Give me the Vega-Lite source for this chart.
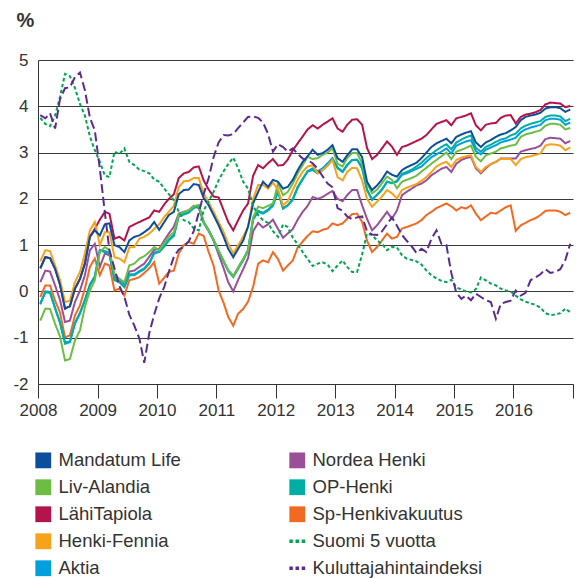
{
  "$schema": "https://vega.github.io/schema/vega-lite/v6.json",
  "width": 535,
  "height": 324,
  "autosize": "none",
  "padding": {"left": 38, "top": 60, "right": 6, "bottom": 194},
  "background": "white",
  "config": {
    "view": {"stroke": null},
    "axis": {"labelFont": "Liberation Sans", "labelColor": "#333", "domainColor": "#333", "tickColor": "#333", "titleFont": "Liberation Sans", "titleColor": "#333"},
    "legend": {
      "orient": "none", "legendX": -4, "legendY": 391, "columns": 2,
      "columnPadding": 107, "rowPadding": 8, "symbolSize": 250, "symbolStrokeWidth": 0, "symbolOpacity": 1,
      "labelFont": "Liberation Sans", "labelFontSize": 18.5, "labelColor": "#333", "labelOffset": 6, "labelLimit": 400, "padding": 0
    }
  },
  "data": {"values": [
    {"d":"2008-01-15","ML":0.5,"LA":-0.63,"LT":0.5,"HF":0.65,"AK":-0.26,"NH":0.2,"OP":-0.28,"SP":-0.12,"S5":3.75,"KH":3.81},
    {"d":"2008-02-15","ML":0.74,"LA":-0.37,"LT":0.74,"HF":0.89,"AK":0.0,"NH":0.45,"OP":-0.02,"SP":0.13,"S5":3.62,"KH":3.74},
    {"d":"2008-03-15","ML":0.72,"LA":-0.38,"LT":0.72,"HF":0.87,"AK":-0.01,"NH":0.43,"OP":-0.03,"SP":0.13,"S5":3.57,"KH":3.85},
    {"d":"2008-04-15","ML":0.49,"LA":-0.7,"LT":0.49,"HF":0.56,"AK":-0.35,"NH":0.13,"OP":-0.37,"SP":-0.2,"S5":3.8,"KH":3.52},
    {"d":"2008-05-15","ML":0.15,"LA":-0.97,"LT":0.15,"HF":0.25,"AK":-0.66,"NH":-0.18,"OP":-0.68,"SP":-0.45,"S5":4.2,"KH":4.15},
    {"d":"2008-06-15","ML":-0.37,"LA":-1.49,"LT":-0.37,"HF":-0.23,"AK":-1.1,"NH":-0.66,"OP":-1.13,"SP":-0.99,"S5":4.7,"KH":4.39},
    {"d":"2008-07-15","ML":-0.32,"LA":-1.46,"LT":-0.32,"HF":-0.2,"AK":-1.08,"NH":-0.63,"OP":-1.1,"SP":-0.95,"S5":4.65,"KH":4.41},
    {"d":"2008-08-15","ML":0.06,"LA":-1.06,"LT":0.06,"HF":0.2,"AK":-0.68,"NH":-0.23,"OP":-0.7,"SP":-0.52,"S5":4.4,"KH":4.63},
    {"d":"2008-09-15","ML":0.27,"LA":-0.84,"LT":0.27,"HF":0.42,"AK":-0.46,"NH":0.02,"OP":-0.48,"SP":-0.3,"S5":4.05,"KH":4.73},
    {"d":"2008-10-15","ML":0.6,"LA":-0.34,"LT":0.6,"HF":0.82,"AK":-0.18,"NH":0.35,"OP":-0.2,"SP":0.06,"S5":3.8,"KH":4.35},
    {"d":"2008-11-15","ML":1.18,"LA":0.02,"LT":1.18,"HF":1.32,"AK":0.15,"NH":0.89,"OP":0.13,"SP":0.53,"S5":3.35,"KH":3.75},
    {"d":"2008-12-15","ML":1.32,"LA":0.24,"LT":1.35,"HF":1.5,"AK":0.33,"NH":1.03,"OP":0.31,"SP":0.71,"S5":3.05,"KH":3.48},
    {"d":"2009-01-15","ML":1.21,"LA":0.85,"LT":1.55,"HF":1.0,"AK":0.9,"NH":0.53,"OP":0.89,"SP":0.35,"S5":2.8,"KH":2.65},
    {"d":"2009-02-15","ML":1.45,"LA":0.96,"LT":1.72,"HF":1.28,"AK":0.87,"NH":0.82,"OP":0.85,"SP":0.6,"S5":2.5,"KH":1.7},
    {"d":"2009-03-15","ML":1.47,"LA":0.89,"LT":1.68,"HF":1.28,"AK":0.84,"NH":0.78,"OP":0.82,"SP":0.56,"S5":2.47,"KH":0.89},
    {"d":"2009-04-15","ML":1.0,"LA":0.38,"LT":1.14,"HF":0.74,"AK":0.26,"NH":0.31,"OP":0.24,"SP":0.02,"S5":3.02,"KH":0.5},
    {"d":"2009-05-15","ML":0.96,"LA":0.27,"LT":1.18,"HF":0.71,"AK":0.22,"NH":0.27,"OP":0.2,"SP":0.06,"S5":2.97,"KH":0.12},
    {"d":"2009-06-15","ML":0.85,"LA":0.2,"LT":1.1,"HF":0.63,"AK":0.11,"NH":0.17,"OP":0.09,"SP":-0.09,"S5":3.09,"KH":-0.12},
    {"d":"2009-07-15","ML":1.1,"LA":0.56,"LT":1.39,"HF":0.95,"AK":0.37,"NH":0.43,"OP":0.35,"SP":0.24,"S5":2.8,"KH":-0.5},
    {"d":"2009-08-15","ML":1.18,"LA":0.6,"LT":1.45,"HF":0.96,"AK":0.37,"NH":0.45,"OP":0.35,"SP":0.27,"S5":2.73,"KH":-0.74},
    {"d":"2009-09-15","ML":1.21,"LA":0.71,"LT":1.5,"HF":1.14,"AK":0.44,"NH":0.53,"OP":0.42,"SP":0.31,"S5":2.63,"KH":-1.02},
    {"d":"2009-10-15","ML":1.28,"LA":0.76,"LT":1.55,"HF":1.18,"AK":0.5,"NH":0.6,"OP":0.48,"SP":0.4,"S5":2.6,"KH":-1.54},
    {"d":"2009-11-15","ML":1.36,"LA":0.85,"LT":1.6,"HF":1.25,"AK":0.62,"NH":0.75,"OP":0.6,"SP":0.5,"S5":2.55,"KH":-0.9},
    {"d":"2009-12-15","ML":1.5,"LA":0.96,"LT":1.75,"HF":1.35,"AK":0.84,"NH":0.9,"OP":0.82,"SP":0.63,"S5":2.42,"KH":-0.5},
    {"d":"2010-01-15","ML":1.33,"LA":0.89,"LT":1.72,"HF":1.45,"AK":0.87,"NH":0.92,"OP":0.85,"SP":0.17,"S5":2.37,"KH":-0.15},
    {"d":"2010-02-15","ML":1.5,"LA":1.05,"LT":1.88,"HF":1.61,"AK":0.99,"NH":1.1,"OP":0.97,"SP":0.3,"S5":2.22,"KH":0.1},
    {"d":"2010-03-15","ML":1.65,"LA":1.18,"LT":2.0,"HF":1.72,"AK":1.12,"NH":1.25,"OP":1.1,"SP":0.42,"S5":2.1,"KH":0.42},
    {"d":"2010-04-15","ML":1.72,"LA":1.28,"LT":2.1,"HF":1.85,"AK":1.22,"NH":1.4,"OP":1.2,"SP":0.45,"S5":1.97,"KH":0.75},
    {"d":"2010-05-15","ML":2.1,"LA":1.65,"LT":2.45,"HF":2.25,"AK":1.64,"NH":1.68,"OP":1.62,"SP":0.82,"S5":1.72,"KH":0.9},
    {"d":"2010-06-15","ML":2.19,"LA":1.72,"LT":2.55,"HF":2.38,"AK":1.68,"NH":1.72,"OP":1.66,"SP":1.0,"S5":1.54,"KH":0.97},
    {"d":"2010-07-15","ML":2.2,"LA":1.75,"LT":2.58,"HF":2.39,"AK":1.72,"NH":1.75,"OP":1.7,"SP":1.07,"S5":1.5,"KH":1.08},
    {"d":"2010-08-15","ML":2.32,"LA":1.84,"LT":2.68,"HF":2.45,"AK":1.82,"NH":1.85,"OP":1.8,"SP":1.03,"S5":1.36,"KH":1.3},
    {"d":"2010-09-15","ML":2.3,"LA":1.87,"LT":2.7,"HF":2.45,"AK":1.86,"NH":1.8,"OP":1.84,"SP":1.25,"S5":1.32,"KH":1.7},
    {"d":"2010-10-15","ML":2.02,"LA":1.5,"LT":2.4,"HF":2.12,"AK":1.5,"NH":1.5,"OP":1.48,"SP":1.2,"S5":1.75,"KH":2.1},
    {"d":"2010-11-15","ML":1.86,"LA":1.32,"LT":2.2,"HF":1.93,"AK":1.32,"NH":1.32,"OP":1.3,"SP":0.85,"S5":1.95,"KH":2.45},
    {"d":"2010-12-15","ML":1.65,"LA":1.12,"LT":2.05,"HF":1.72,"AK":1.12,"NH":1.1,"OP":1.1,"SP":0.56,"S5":2.15,"KH":2.9},
    {"d":"2011-01-15","ML":1.43,"LA":0.88,"LT":2.03,"HF":1.5,"AK":0.88,"NH":0.8,"OP":0.86,"SP":0.02,"S5":2.4,"KH":3.22},
    {"d":"2011-02-15","ML":1.18,"LA":0.66,"LT":1.75,"HF":1.28,"AK":0.66,"NH":0.5,"OP":0.64,"SP":-0.25,"S5":2.6,"KH":3.38},
    {"d":"2011-03-15","ML":0.92,"LA":0.46,"LT":1.5,"HF":1.03,"AK":0.46,"NH":0.2,"OP":0.44,"SP":-0.55,"S5":2.75,"KH":3.37},
    {"d":"2011-04-15","ML":0.74,"LA":0.33,"LT":1.32,"HF":0.82,"AK":0.33,"NH":0.0,"OP":0.31,"SP":-0.74,"S5":2.89,"KH":3.4},
    {"d":"2011-05-15","ML":0.92,"LA":0.52,"LT":1.54,"HF":1.0,"AK":0.51,"NH":0.25,"OP":0.49,"SP":-0.48,"S5":2.66,"KH":3.53},
    {"d":"2011-06-15","ML":1.1,"LA":0.7,"LT":1.75,"HF":1.18,"AK":0.69,"NH":0.48,"OP":0.67,"SP":-0.38,"S5":2.37,"KH":3.65},
    {"d":"2011-07-15","ML":1.4,"LA":0.88,"LT":1.9,"HF":1.4,"AK":0.9,"NH":0.72,"OP":0.88,"SP":-0.22,"S5":2.22,"KH":3.77},
    {"d":"2011-08-15","ML":1.9,"LA":1.6,"LT":2.5,"HF":2.0,"AK":1.57,"NH":1.3,"OP":1.55,"SP":0.1,"S5":1.85,"KH":3.78},
    {"d":"2011-09-15","ML":2.15,"LA":1.83,"LT":2.73,"HF":2.3,"AK":1.74,"NH":1.48,"OP":1.72,"SP":0.6,"S5":1.65,"KH":3.75},
    {"d":"2011-10-15","ML":2.37,"LA":1.8,"LT":2.66,"HF":2.3,"AK":1.7,"NH":1.38,"OP":1.68,"SP":0.67,"S5":1.54,"KH":3.65},
    {"d":"2011-11-15","ML":2.26,"LA":1.85,"LT":2.77,"HF":2.22,"AK":1.77,"NH":1.45,"OP":1.75,"SP":0.63,"S5":1.48,"KH":3.4},
    {"d":"2011-12-15","ML":2.41,"LA":1.9,"LT":2.86,"HF":2.35,"AK":1.87,"NH":1.55,"OP":1.85,"SP":0.85,"S5":1.3,"KH":3.02},
    {"d":"2012-01-15","ML":2.37,"LA":2.33,"LT":2.72,"HF":2.2,"AK":2.17,"NH":1.35,"OP":2.15,"SP":0.7,"S5":1.18,"KH":3.18},
    {"d":"2012-02-15","ML":2.22,"LA":2.08,"LT":2.73,"HF":1.86,"AK":1.8,"NH":1.16,"OP":1.79,"SP":0.45,"S5":1.45,"KH":3.12},
    {"d":"2012-03-15","ML":2.26,"LA":2.15,"LT":2.85,"HF":1.95,"AK":1.86,"NH":1.25,"OP":1.86,"SP":0.56,"S5":1.39,"KH":3.02},
    {"d":"2012-04-15","ML":2.41,"LA":2.33,"LT":3.05,"HF":2.19,"AK":1.98,"NH":1.35,"OP":2.0,"SP":0.67,"S5":1.16,"KH":3.09},
    {"d":"2012-05-15","ML":2.62,"LA":2.55,"LT":3.2,"HF":2.41,"AK":2.24,"NH":1.55,"OP":2.26,"SP":0.95,"S5":1.02,"KH":2.97},
    {"d":"2012-06-15","ML":2.8,"LA":2.73,"LT":3.35,"HF":2.59,"AK":2.42,"NH":1.72,"OP":2.44,"SP":1.08,"S5":0.85,"KH":2.87},
    {"d":"2012-07-15","ML":2.92,"LA":2.91,"LT":3.5,"HF":2.7,"AK":2.6,"NH":1.85,"OP":2.59,"SP":1.2,"S5":0.7,"KH":2.83},
    {"d":"2012-08-15","ML":3.06,"LA":2.86,"LT":3.59,"HF":2.73,"AK":2.66,"NH":2.04,"OP":2.62,"SP":1.3,"S5":0.55,"KH":2.77},
    {"d":"2012-09-15","ML":2.95,"LA":2.88,"LT":3.52,"HF":2.55,"AK":2.6,"NH":2.0,"OP":2.55,"SP":1.28,"S5":0.6,"KH":2.65},
    {"d":"2012-10-15","ML":2.99,"LA":2.95,"LT":3.6,"HF":2.62,"AK":2.66,"NH":2.04,"OP":2.62,"SP":1.33,"S5":0.63,"KH":2.49},
    {"d":"2012-11-15","ML":3.06,"LA":3.0,"LT":3.67,"HF":2.72,"AK":2.77,"NH":2.11,"OP":2.72,"SP":1.36,"S5":0.58,"KH":2.33},
    {"d":"2012-12-15","ML":3.16,"LA":3.09,"LT":3.74,"HF":2.84,"AK":2.88,"NH":2.17,"OP":2.86,"SP":1.47,"S5":0.44,"KH":2.25},
    {"d":"2013-01-15","ML":2.88,"LA":2.76,"LT":3.52,"HF":2.47,"AK":2.68,"NH":2.0,"OP":2.66,"SP":1.43,"S5":0.56,"KH":1.8},
    {"d":"2013-02-15","ML":2.8,"LA":2.7,"LT":3.45,"HF":2.4,"AK":2.59,"NH":1.95,"OP":2.58,"SP":1.47,"S5":0.67,"KH":1.74},
    {"d":"2013-03-15","ML":2.94,"LA":2.88,"LT":3.6,"HF":2.58,"AK":2.74,"NH":2.08,"OP":2.72,"SP":1.57,"S5":0.53,"KH":1.62},
    {"d":"2013-04-15","ML":3.07,"LA":2.99,"LT":3.71,"HF":2.67,"AK":2.84,"NH":2.19,"OP":2.84,"SP":1.67,"S5":0.42,"KH":1.56},
    {"d":"2013-05-15","ML":3.07,"LA":2.99,"LT":3.72,"HF":2.66,"AK":2.84,"NH":2.19,"OP":2.85,"SP":1.68,"S5":0.42,"KH":1.6},
    {"d":"2013-06-15","ML":2.9,"LA":2.77,"LT":3.6,"HF":2.4,"AK":2.7,"NH":1.86,"OP":2.65,"SP":1.5,"S5":0.8,"KH":1.62},
    {"d":"2013-07-15","ML":2.37,"LA":2.34,"LT":3.1,"HF":2.0,"AK":2.19,"NH":1.57,"OP":2.2,"SP":1.1,"S5":1.25,"KH":1.3},
    {"d":"2013-08-15","ML":2.19,"LA":2.12,"LT":2.86,"HF":1.83,"AK":1.98,"NH":1.32,"OP":1.99,"SP":0.85,"S5":1.22,"KH":1.23},
    {"d":"2013-09-15","ML":2.29,"LA":2.2,"LT":2.95,"HF":1.94,"AK":2.09,"NH":1.43,"OP":2.09,"SP":0.96,"S5":1.1,"KH":1.22},
    {"d":"2013-10-15","ML":2.42,"LA":2.34,"LT":3.09,"HF":2.05,"AK":2.2,"NH":1.57,"OP":2.2,"SP":1.1,"S5":1.03,"KH":1.3},
    {"d":"2013-11-15","ML":2.59,"LA":2.48,"LT":3.24,"HF":2.19,"AK":2.37,"NH":1.72,"OP":2.37,"SP":1.25,"S5":0.89,"KH":1.45},
    {"d":"2013-12-15","ML":2.52,"LA":2.41,"LT":3.13,"HF":2.12,"AK":2.34,"NH":1.57,"OP":2.34,"SP":1.14,"S5":0.96,"KH":1.6},
    {"d":"2014-01-15","ML":2.48,"LA":2.23,"LT":2.95,"HF":2.01,"AK":2.37,"NH":1.75,"OP":2.39,"SP":1.18,"S5":0.95,"KH":1.42},
    {"d":"2014-02-15","ML":2.62,"LA":2.37,"LT":3.12,"HF":2.19,"AK":2.52,"NH":2.08,"OP":2.54,"SP":1.36,"S5":0.78,"KH":1.22},
    {"d":"2014-03-15","ML":2.68,"LA":2.41,"LT":3.15,"HF":2.24,"AK":2.55,"NH":2.15,"OP":2.58,"SP":1.39,"S5":0.71,"KH":1.1},
    {"d":"2014-04-15","ML":2.73,"LA":2.45,"LT":3.2,"HF":2.28,"AK":2.6,"NH":2.22,"OP":2.63,"SP":1.43,"S5":0.68,"KH":0.98},
    {"d":"2014-05-15","ML":2.78,"LA":2.5,"LT":3.25,"HF":2.32,"AK":2.65,"NH":2.29,"OP":2.7,"SP":1.47,"S5":0.65,"KH":0.83},
    {"d":"2014-06-15","ML":2.88,"LA":2.59,"LT":3.3,"HF":2.39,"AK":2.7,"NH":2.33,"OP":2.78,"SP":1.54,"S5":0.58,"KH":0.92},
    {"d":"2014-07-15","ML":3.0,"LA":2.67,"LT":3.38,"HF":2.47,"AK":2.8,"NH":2.4,"OP":2.88,"SP":1.65,"S5":0.45,"KH":0.85},
    {"d":"2014-08-15","ML":3.12,"LA":2.76,"LT":3.5,"HF":2.58,"AK":2.9,"NH":2.51,"OP":2.97,"SP":1.72,"S5":0.35,"KH":1.14},
    {"d":"2014-09-15","ML":3.2,"LA":2.84,"LT":3.62,"HF":2.7,"AK":2.96,"NH":2.58,"OP":3.05,"SP":1.8,"S5":0.28,"KH":1.32},
    {"d":"2014-10-15","ML":3.25,"LA":2.92,"LT":3.66,"HF":2.76,"AK":3.02,"NH":2.65,"OP":3.12,"SP":1.85,"S5":0.23,"KH":1.03},
    {"d":"2014-11-15","ML":3.3,"LA":3.0,"LT":3.7,"HF":2.8,"AK":3.09,"NH":2.69,"OP":3.18,"SP":1.9,"S5":0.2,"KH":1.0},
    {"d":"2014-12-15","ML":3.2,"LA":2.86,"LT":3.59,"HF":2.69,"AK":2.98,"NH":2.58,"OP":3.07,"SP":1.84,"S5":0.25,"KH":0.4},
    {"d":"2015-01-15","ML":3.34,"LA":3.02,"LT":3.74,"HF":2.84,"AK":3.15,"NH":2.76,"OP":3.22,"SP":1.75,"S5":0.09,"KH":-0.03},
    {"d":"2015-02-15","ML":3.39,"LA":3.06,"LT":3.77,"HF":2.89,"AK":3.2,"NH":2.84,"OP":3.28,"SP":1.82,"S5":0.04,"KH":-0.16},
    {"d":"2015-03-15","ML":3.43,"LA":3.1,"LT":3.8,"HF":2.92,"AK":3.24,"NH":2.88,"OP":3.33,"SP":1.79,"S5":0.0,"KH":-0.09},
    {"d":"2015-04-15","ML":3.46,"LA":3.15,"LT":3.85,"HF":2.94,"AK":3.27,"NH":2.91,"OP":3.37,"SP":1.86,"S5":-0.02,"KH":-0.19},
    {"d":"2015-05-15","ML":3.22,"LA":2.91,"LT":3.59,"HF":2.69,"AK":3.03,"NH":2.66,"OP":3.1,"SP":1.68,"S5":0.05,"KH":-0.05},
    {"d":"2015-06-15","ML":3.12,"LA":2.81,"LT":3.48,"HF":2.58,"AK":2.96,"NH":2.55,"OP":3.02,"SP":1.54,"S5":0.3,"KH":-0.12},
    {"d":"2015-07-15","ML":3.22,"LA":2.94,"LT":3.6,"HF":2.69,"AK":3.06,"NH":2.66,"OP":3.12,"SP":1.62,"S5":0.24,"KH":-0.19},
    {"d":"2015-08-15","ML":3.27,"LA":2.98,"LT":3.63,"HF":2.75,"AK":3.11,"NH":2.75,"OP":3.17,"SP":1.7,"S5":0.17,"KH":-0.23},
    {"d":"2015-09-15","ML":3.34,"LA":3.02,"LT":3.64,"HF":2.8,"AK":3.16,"NH":2.8,"OP":3.23,"SP":1.68,"S5":0.13,"KH":-0.59},
    {"d":"2015-10-15","ML":3.39,"LA":3.09,"LT":3.75,"HF":2.87,"AK":3.22,"NH":2.87,"OP":3.28,"SP":1.75,"S5":0.06,"KH":-0.27},
    {"d":"2015-11-15","ML":3.42,"LA":3.12,"LT":3.8,"HF":2.86,"AK":3.25,"NH":2.87,"OP":3.31,"SP":1.82,"S5":0.02,"KH":-0.23},
    {"d":"2015-12-15","ML":3.48,"LA":3.15,"LT":3.81,"HF":2.86,"AK":3.28,"NH":2.87,"OP":3.37,"SP":1.86,"S5":0.0,"KH":-0.2},
    {"d":"2016-01-15","ML":3.55,"LA":3.17,"LT":3.63,"HF":2.73,"AK":3.32,"NH":2.87,"OP":3.41,"SP":1.31,"S5":-0.09,"KH":0.02},
    {"d":"2016-02-15","ML":3.7,"LA":3.34,"LT":3.77,"HF":2.86,"AK":3.44,"NH":3.02,"OP":3.52,"SP":1.43,"S5":-0.17,"KH":-0.09},
    {"d":"2016-03-15","ML":3.77,"LA":3.39,"LT":3.82,"HF":2.9,"AK":3.5,"NH":3.05,"OP":3.58,"SP":1.48,"S5":-0.22,"KH":-0.03},
    {"d":"2016-04-15","ML":3.8,"LA":3.42,"LT":3.84,"HF":2.92,"AK":3.54,"NH":3.08,"OP":3.62,"SP":1.54,"S5":-0.26,"KH":0.24},
    {"d":"2016-05-15","ML":3.82,"LA":3.45,"LT":3.87,"HF":2.95,"AK":3.57,"NH":3.1,"OP":3.65,"SP":1.58,"S5":-0.29,"KH":0.3},
    {"d":"2016-06-15","ML":3.86,"LA":3.48,"LT":3.92,"HF":2.98,"AK":3.6,"NH":3.15,"OP":3.68,"SP":1.65,"S5":-0.35,"KH":0.37},
    {"d":"2016-07-15","ML":3.95,"LA":3.58,"LT":4.04,"HF":3.15,"AK":3.7,"NH":3.29,"OP":3.77,"SP":1.74,"S5":-0.47,"KH":0.48},
    {"d":"2016-08-15","ML":3.98,"LA":3.62,"LT":4.08,"HF":3.18,"AK":3.73,"NH":3.32,"OP":3.8,"SP":1.75,"S5":-0.51,"KH":0.4},
    {"d":"2016-09-15","ML":3.98,"LA":3.62,"LT":4.07,"HF":3.17,"AK":3.73,"NH":3.31,"OP":3.8,"SP":1.75,"S5":-0.5,"KH":0.42},
    {"d":"2016-10-15","ML":3.96,"LA":3.6,"LT":4.06,"HF":3.15,"AK":3.71,"NH":3.3,"OP":3.78,"SP":1.72,"S5":-0.47,"KH":0.48},
    {"d":"2016-11-15","ML":3.88,"LA":3.5,"LT":3.98,"HF":3.05,"AK":3.6,"NH":3.2,"OP":3.68,"SP":1.65,"S5":-0.37,"KH":0.68},
    {"d":"2016-12-15","ML":3.93,"LA":3.53,"LT":4.01,"HF":3.11,"AK":3.65,"NH":3.25,"OP":3.73,"SP":1.7,"S5":-0.45,"KH":1.03}
  ]},
  "transform": [
    {"fold": ["LT","NH","SP","AK","OP","LA","HF","ML","S5","KH"], "as": ["s","v"]}
  ],
  "encoding": {
    "x": {
      "field": "d", "type": "temporal",
      "scale": {"type": "utc", "domain": ["2008-01-01", "2017-01-01"]},
      "axis": {
        "title": null, "grid": false, "tickCount": "year", "format": "%Y",
        "labelExpr": "utcyear(datum.value) >= 2017 ? '' : datum.label",
        "tickSize": 14, "labelPadding": 4, "labelFontSize": 17, "labelFlush": false, "labelOverlap": false
      }
    },
    "y": {
      "field": "v", "type": "quantitative",
      "scale": {"domain": [-2, 5], "nice": false, "zero": false},
      "axis": {
        "values": [-2, -1, 0, 1, 2, 3, 4, 5], "grid": true, "gridColor": "#3a3a3a", "gridWidth": 1,
        "labelExpr": "'' + datum.value",
        "ticks": false, "labelPadding": 10, "labelFontSize": 17,
        "title": "%", "titleAngle": 0, "titleX": -22, "titleY": -34, "titleAlign": "left",
        "titleBaseline": "alphabetic", "titleFontSize": 20, "titleFontWeight": "bold"
      }
    }
  },
  "layer": [
    {
      "mark": {"type": "line", "strokeWidth": 2},
      "encoding": {
        "stroke": {
          "field": "s", "type": "nominal", "legend": null,
          "scale": {
            "domain": ["LT","NH","SP","AK","OP","LA","HF","ML","S5","KH"],
            "range": ["#b4134b","#9b4f96","#f26a21","#00a0df","#00aea5","#6dbd45","#f7a21b","#0b4f9c","#00a651","#5b2c8f"]
          }
        },
        "strokeDash": {
          "field": "s", "type": "nominal", "legend": null,
          "scale": {
            "domain": ["LT","NH","SP","AK","OP","LA","HF","ML","S5","KH"],
            "range": [[1,0],[1,0],[1,0],[1,0],[1,0],[1,0],[1,0],[1,0],[3.5,2.5],[9,4]]
          }
        }
      }
    },
    {
      "mark": {"type": "point", "filled": true, "opacity": 0},
      "encoding": {
        "color": {
          "field": "s", "type": "nominal",
          "scale": {
            "domain": ["ML","LA","LT","HF","AK","NH","OP","SP","S5","KH"],
            "range": ["#0b4f9c","#6dbd45","#b4134b","#f7a21b","#00a0df","#9b4f96","#00aea5","#f26a21","#00a651","#5b2c8f"]
          },
          "legend": {
            "title": null, "orient": "none", "legendX": -4, "legendY": 391,
            "labelExpr": "datum.label == 'ML' ? 'Mandatum Life' : datum.label == 'NH' ? 'Nordea Henki' : datum.label == 'LA' ? 'Liv-Alandia' : datum.label == 'OP' ? 'OP-Henki' : datum.label == 'LT' ? 'LähiTapiola' : datum.label == 'SP' ? 'Sp-Henkivakuutus' : datum.label == 'HF' ? 'Henki-Fennia' : datum.label == 'S5' ? 'Suomi 5 vuotta' : datum.label == 'AK' ? 'Aktia' : 'Kuluttajahintaindeksi'"
          }
        },
        "shape": {
          "field": "s", "type": "nominal",
          "scale": {
            "domain": ["ML","LA","LT","HF","AK","NH","OP","SP","S5","KH"],
            "range": ["square","square","square","square","square","square","square","square","M-1,-0.22H-0.56V0.22H-1Z M-0.22,-0.22H0.22V0.22H-0.22Z M0.56,-0.22H1V0.22H0.56Z","M-1,-0.22H-0.56V0.22H-1Z M-0.22,-0.22H0.22V0.22H-0.22Z M0.56,-0.22H1V0.22H0.56Z"]
          },
          "legend": {
            "title": null, "orient": "none", "legendX": -4, "legendY": 391,
            "labelExpr": "datum.label == 'ML' ? 'Mandatum Life' : datum.label == 'NH' ? 'Nordea Henki' : datum.label == 'LA' ? 'Liv-Alandia' : datum.label == 'OP' ? 'OP-Henki' : datum.label == 'LT' ? 'LähiTapiola' : datum.label == 'SP' ? 'Sp-Henkivakuutus' : datum.label == 'HF' ? 'Henki-Fennia' : datum.label == 'S5' ? 'Suomi 5 vuotta' : datum.label == 'AK' ? 'Aktia' : 'Kuluttajahintaindeksi'"
          }
        }
      }
    }
  ]
}
